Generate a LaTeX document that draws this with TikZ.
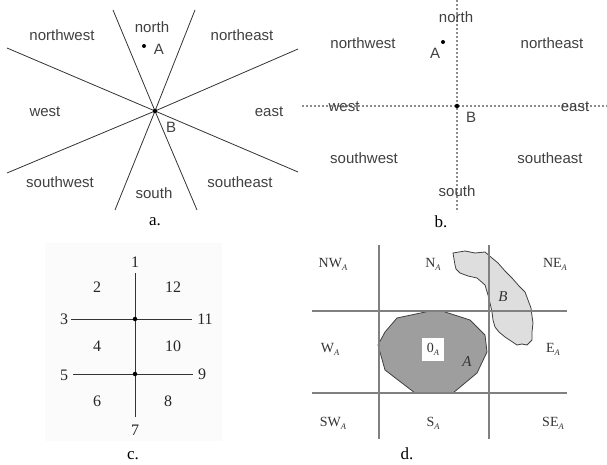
\documentclass[tikz,border=0pt]{standalone}
\usepackage{fontspec}
\setmainfont{Liberation Serif}
\setsansfont{Liberation Sans}
\begin{document}
\begin{tikzpicture}[x=1pt,y=-1pt,
  sanslbl/.style={font=\sffamily\fontsize{15}{15}\selectfont, text=black!75, inner sep=0pt},
  numlbl/.style={font=\fontsize{16}{16}\selectfont, text=black!85, inner sep=0pt},
  dlbl/.style={font=\fontsize{14}{14}\selectfont, text=black!80, inner sep=0pt},
  captionlbl/.style={font=\fontsize{17}{17}\selectfont, inner sep=0pt},
  dotpt/.style={circle, fill=black, inner sep=0pt, minimum size=4.5pt},
  sector/.style={draw=black!80, line width=0.8pt},
  dotline/.style={draw=black!45, line width=2pt, dash pattern=on 2pt off 2pt},
  cline/.style={draw=black!80, line width=1pt},
  gridline/.style={draw=black!50, line width=1.3pt}]
\useasboundingbox (0,0) rectangle (607,465);

% ---------- panel a ----------
\coordinate (Ca) at (155,111);
\draw[sector] (113,10) -- (Ca) -- (197,210);
\draw[sector] (195,10) -- (Ca) -- (115,210);
\draw[sector] (7,48) -- (Ca) -- (298,172);
\draw[sector] (7,173) -- (Ca) -- (298,49);
\node[dotpt] (Bpa) at (Ca) {};
\node[dotpt, minimum size=4pt] (Apa) at (144,46) {};
\node[sanslbl] (na) at (152,27) {north};
\node[sanslbl] (nwa) at (62,35) {northwest};
\node[sanslbl] (nea) at (242,35) {northeast};
\node[sanslbl] (Aa) at (159,49) {A};
\node[sanslbl] (wa) at (45,112) {west};
\node[sanslbl] (ea) at (269,112) {east};
\node[sanslbl] (Ba) at (171,127) {B};
\node[sanslbl] (swa) at (60,182) {southwest};
\node[sanslbl] (sa) at (154,193) {south};
\node[sanslbl] (sea) at (240,182) {southeast};
\node[captionlbl] (capa) at (155,222) {a.};

% ---------- panel b ----------
\coordinate (Nb) at (457,0);
\coordinate (Sb) at (457,212);
\coordinate (Wb) at (302,106);
\coordinate (Eb) at (607,106);
\draw[dotline] (Nb) -- (Sb);
\draw[dotline] (Wb) -- (Eb);
\node[dotpt] (Bpb) at (457,106) {};
\node[dotpt, minimum size=4pt] (Apb) at (443,42) {};
\node[sanslbl] (nb) at (456,17) {north};
\node[sanslbl] (nwb) at (363,43) {northwest};
\node[sanslbl] (neb) at (552,43) {northeast};
\node[sanslbl] (Ab) at (435,53) {A};
\node[sanslbl] (wb) at (344,107) {west};
\node[sanslbl] (eb) at (575,107) {east};
\node[sanslbl] (Bb) at (471,117) {B};
\node[sanslbl] (swb) at (364,158) {southwest};
\node[sanslbl] (seb) at (550,158) {southeast};
\node[sanslbl] (sb) at (457,191) {south};
\node[captionlbl] (capb) at (441,222) {b.};

% ---------- panel c ----------
\fill[black!1.5] (45,243) rectangle (222,441);
\coordinate (c1) at (135,273);
\coordinate (c7) at (135,417);
\coordinate (c3) at (71,319);
\coordinate (c11) at (192,319);
\coordinate (c5) at (73,374);
\coordinate (c9) at (193,374);
\draw[cline] (c1) -- (c7);
\draw[cline] (c3) -- (c11);
\draw[cline] (c5) -- (c9);
\node[dotpt] (pc1) at (135,319) {};
\node[dotpt] (pc2) at (135,374) {};
\node[numlbl] (l1) at (135,262) {1};
\node[numlbl] (l2) at (97,287) {2};
\node[numlbl] (l12) at (173,287) {12};
\node[numlbl] (l3) at (64,319) {3};
\node[numlbl] (l11) at (205,319) {11};
\node[numlbl] (l4) at (97,346) {4};
\node[numlbl] (l10) at (173,346) {10};
\node[numlbl] (l5) at (64,375) {5};
\node[numlbl] (l9) at (202,374) {9};
\node[numlbl] (l6) at (97,401) {6};
\node[numlbl] (l8) at (168,401) {8};
\node[numlbl] (l7) at (135,430) {7};
\node[captionlbl] (capc) at (133,456) {c.};

% ---------- panel d ----------
\filldraw[fill=black!38, draw=black!75, line width=0.8pt]
  (415,393) -- (453,393) -- (477,373) -- (487,352) -- (485,335) -- (470,320)
  -- (442,311) -- (430,311) -- (397,318) -- (385,332) -- (378,345) -- (385,370) -- cycle;
\filldraw[fill=black!13, draw=black!75, line width=0.8pt]
  (453,253) -- (465,251) -- (475,253) -- (485,252) -- (492,258) -- (498,263)
  -- (505,271) -- (512,278) -- (519,286) -- (525,292) -- (528,300) -- (531,308)
  -- (532,316) -- (533,323) -- (532,332) -- (532,340) -- (527,345) -- (522,344)
  -- (517,345) -- (511,341) -- (505,337) -- (499,332) -- (495,327) -- (493,320)
  -- (492,312) -- (490,303) -- (488,295) -- (485,285) -- (477,278) -- (468,276)
  -- (460,273) -- (456,269) -- (455,265) -- (454,259) -- cycle;
\coordinate (g1t) at (379,245);
\coordinate (g1b) at (379,439);
\coordinate (g2t) at (489,245);
\coordinate (g2b) at (489,439);
\coordinate (h1l) at (312,311);
\coordinate (h1r) at (567,311);
\coordinate (h2l) at (312,393);
\coordinate (h2r) at (567,393);
\draw[gridline] (g1t) -- (g1b);
\draw[gridline] (g2t) -- (g2b);
\draw[gridline] (h1l) -- (h1r);
\draw[gridline] (h2l) -- (h2r);
\newcommand{\subA}{\raisebox{-3pt}{\textit{\fontsize{8.5}{8.5}\selectfont A}}}
\node[dlbl] (NW) at (333,264) {NW\subA};
\node[dlbl] (N) at (433,264) {N\subA};
\node[dlbl] (NE) at (555,264) {NE\subA};
\node[dlbl] (W) at (330,349) {W\subA};
\node[dlbl] (E) at (553,349) {E\subA};
\node[dlbl] (SW) at (333,423) {SW\subA};
\node[dlbl] (S) at (433,423) {S\subA};
\node[dlbl] (SE) at (553,423) {SE\subA};
\node[dlbl, fill=white, minimum width=22pt, minimum height=23pt] (O) at (433,349) {0\subA};
\node[dlbl, font=\itshape\fontsize{15}{15}\selectfont] (Ad) at (467,362) {A};
\node[dlbl, font=\itshape\fontsize{15}{15}\selectfont] (Bd) at (503,297) {B};
\node[captionlbl] (capd) at (407,454) {d.};
\end{tikzpicture}
\end{document}
